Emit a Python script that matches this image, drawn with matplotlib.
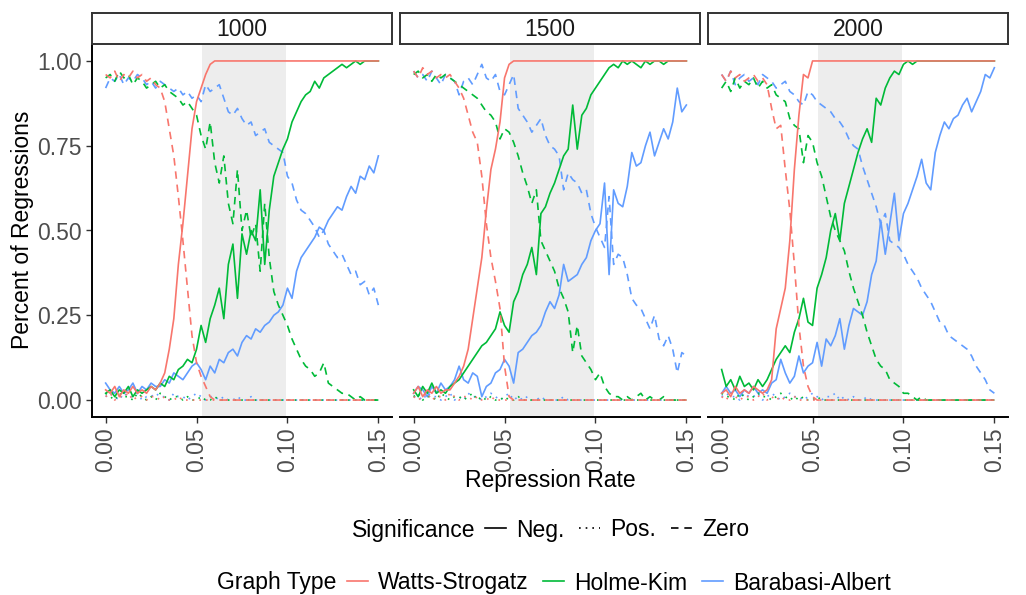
import numpy as np
import matplotlib.pyplot as plt
from matplotlib.lines import Line2D

plt.rcParams["font.family"] = ["Liberation Sans", "DejaVu Sans"]

# repression rates tested (61 steps from 0 to 0.15)
rate = np.linspace(0, 0.15, 61)

sizes = ["1000", "1500", "2000"]
graph_types = ["Watts-Strogatz", "Holme-Kim", "Barabasi-Albert"]
significance = ["Neg.", "Pos.", "Zero"]

# percent of regressions (x100) per network size / graph type / significance
ws_neg_1000 = [3, 2, 4, 1, 3, 2, 4, 2, 3, 2,
               4, 3, 5, 8, 15, 24, 40, 52, 66, 80,
               88, 92, 96, 99, 100, 100, 100, 100, 100, 100,
               100, 100, 100, 100, 100, 100, 100, 100, 100, 100,
               100, 100, 100, 100, 100, 100, 100, 100, 100, 100,
               100, 100, 100, 100, 100, 100, 100, 100, 100, 100,
               100]
ws_zero_1000 = [96, 95, 97, 94, 96, 95, 97, 95, 96, 94,
                95, 93, 92, 88, 80, 72, 60, 47, 33, 19,
                11, 7, 4, 1, 0, 0, 0, 0, 0, 0,
                0, 0, 0, 0, 0, 0, 0, 0, 0, 0,
                0, 0, 0, 0, 0, 0, 0, 0, 0, 0,
                0, 0, 0, 0, 0, 0, 0, 0, 0, 0,
                0]
ws_pos_1000 = [1, 2, 0, 1, 1, 2, 0, 1, 1, 0,
               1, 1, 0, 1, 0, 0, 1, 0, 0, 0,
               0, 0, 0, 0, 0, 0, 0, 0, 0, 0,
               0, 0, 0, 0, 0, 0, 0, 0, 0, 0,
               0, 0, 0, 0, 0, 0, 0, 0, 0, 0,
               0, 0, 0, 0, 0, 0, 0, 0, 0, 0,
               0]
hk_neg_1000 = [2, 3, 1, 3, 2, 4, 1, 3, 2, 3,
               4, 3, 5, 4, 7, 6, 9, 10, 12, 11,
               15, 22, 17, 24, 28, 33, 24, 40, 46, 30,
               49, 43, 50, 47, 62, 40, 56, 66, 70, 74,
               77, 82, 85, 88, 90, 91, 94, 92, 95, 96,
               97, 98, 99, 98, 99, 100, 99, 100, 100, 100,
               100]
hk_zero_1000 = [95, 96, 94, 97, 95, 96, 93, 95, 94, 92,
                93, 94, 92, 93, 91, 90, 89, 87, 88, 86,
                84, 78, 74, 82, 70, 64, 72, 58, 52, 68,
                50, 56, 48, 52, 38, 58, 42, 32, 28, 25,
                22, 18, 15, 12, 10, 9, 7, 8, 11, 5,
                4, 3, 2, 2, 1, 0, 1, 0, 0, 0,
                0]
hk_pos_1000 = [2, 1, 0, 2, 1, 1, 0, 2, 1, 0,
               1, 0, 2, 1, 0, 1, 1, 0, 1, 0,
               0, 1, 0, 0, 1, 0, 0, 0, 0, 0,
               0, 0, 0, 0, 0, 0, 0, 0, 0, 0,
               0, 0, 0, 0, 0, 0, 0, 0, 0, 0,
               0, 0, 0, 0, 0, 0, 0, 0, 0, 0,
               0]
ba_neg_1000 = [5, 3, 2, 4, 2, 3, 5, 2, 4, 3,
               5, 4, 4, 6, 5, 8, 7, 6, 8, 10,
               11, 9, 6, 10, 8, 12, 11, 14, 15, 13,
               17, 19, 18, 21, 20, 22, 23, 25, 26, 28,
               33, 30, 38, 42, 44, 46, 48, 51, 50, 53,
               55, 57, 56, 60, 63, 61, 66, 65, 69, 67,
               72]
ba_zero_1000 = [92, 95, 94, 96, 93, 95, 94, 96, 95, 93,
                94, 92, 94, 93, 92, 91, 92, 90, 91, 89,
                90, 88, 93, 91, 92, 93, 89, 85, 84, 86,
                83, 81, 82, 78, 79, 80, 76, 75, 74, 73,
                66, 64, 59, 56, 55, 53, 51, 48, 50, 46,
                44, 42, 43, 40, 37, 38, 34, 35, 31, 33,
                28]
ba_pos_1000 = [1, 2, 1, 0, 2, 1, 1, 2, 0, 1,
               1, 2, 1, 1, 0, 2, 1, 1, 0, 1,
               2, 1, 0, 1, 1, 0, 1, 0, 0, 1,
               0, 0, 1, 0, 0, 0, 0, 0, 0, 0,
               0, 0, 0, 0, 0, 0, 0, 0, 0, 0,
               0, 0, 0, 0, 0, 0, 0, 0, 0, 0,
               0]

ws_neg_1500 = [2, 4, 1, 3, 2, 4, 2, 3, 3, 5,
               7, 10, 15, 24, 33, 42, 56, 68, 74, 82,
               95, 99, 100, 100, 100, 100, 100, 100, 100, 100,
               100, 100, 100, 100, 100, 100, 100, 100, 100, 100,
               100, 100, 100, 100, 100, 100, 100, 100, 100, 100,
               100, 100, 100, 100, 100, 100, 100, 100, 100, 100,
               100]
ws_zero_1500 = [97, 95, 98, 96, 97, 95, 96, 95, 96, 94,
                92, 89, 84, 79, 76, 66, 52, 42, 35, 27,
                10, 1, 0, 0, 0, 0, 0, 0, 0, 0,
                0, 0, 0, 0, 0, 0, 0, 0, 0, 0,
                0, 0, 0, 0, 0, 0, 0, 0, 0, 0,
                0, 0, 0, 0, 0, 0, 0, 0, 0, 0,
                0]
ws_pos_1500 = [1, 0, 1, 2, 0, 1, 1, 0, 2, 1,
               0, 1, 1, 0, 1, 0, 0, 1, 0, 0,
               0, 0, 0, 0, 0, 0, 0, 0, 0, 0,
               0, 0, 0, 0, 0, 0, 0, 0, 0, 0,
               0, 0, 0, 0, 0, 0, 0, 0, 0, 0,
               0, 0, 0, 0, 0, 0, 0, 0, 0, 0,
               0]
hk_neg_1500 = [3, 1, 4, 2, 5, 2, 3, 2, 4, 5,
               6, 8, 10, 12, 14, 16, 17, 19, 21, 26,
               22, 20, 29, 32, 37, 40, 45, 37, 55, 57,
               61, 64, 68, 72, 74, 87, 74, 84, 86, 90,
               92, 94, 96, 98, 99, 98, 100, 99, 100, 99,
               98, 100, 99, 100, 100, 99, 100, 100, 100, 100,
               100]
hk_zero_1500 = [96, 97, 95, 96, 94, 96, 95, 96, 95, 94,
                93, 92, 91, 90, 89, 87, 85, 84, 82, 77,
                80, 79, 76, 72, 67, 63, 58, 62, 47, 44,
                41, 38, 33, 30, 26, 14, 22, 13, 11, 9,
                6, 8, 4, 2, 1, 1, 0, 1, 0, 1,
                2, 0, 1, 0, 0, 1, 0, 0, 0, 0,
                0]
hk_pos_1500 = [1, 2, 0, 1, 1, 0, 2, 1, 0, 1,
               1, 0, 1, 2, 0, 1, 0, 1, 0, 0,
               1, 0, 0, 1, 0, 0, 0, 0, 0, 0,
               0, 0, 0, 0, 0, 0, 0, 0, 0, 0,
               0, 0, 0, 0, 0, 0, 0, 0, 0, 0,
               0, 0, 0, 0, 0, 0, 0, 0, 0, 0,
               0]
ba_neg_1500 = [2, 4, 3, 1, 4, 2, 5, 3, 4, 6,
               10, 6, 5, 8, 7, 1, 4, 5, 8, 9,
               12, 10, 5, 14, 15, 17, 19, 20, 22, 26,
               29, 27, 31, 40, 35, 36, 37, 40, 42, 47,
               50, 52, 64, 37, 62, 58, 57, 63, 73, 69,
               70, 75, 79, 72, 76, 80, 77, 82, 92, 85,
               87]
ba_zero_1500 = [97, 95, 96, 94, 97, 95, 93, 96, 95, 94,
                90, 94, 95, 93, 96, 99, 95, 94, 96, 91,
                90, 93, 96, 86, 84, 82, 79, 81, 83, 78,
                75, 74, 72, 62, 67, 65, 64, 61, 62, 55,
                51, 48, 45, 60, 40, 43, 42, 37, 30, 28,
                27, 24, 21, 25, 18, 16, 19, 15, 8, 14,
                13]
ba_pos_1500 = [1, 1, 0, 2, 1, 1, 0, 1, 2, 0,
               1, 0, 2, 1, 1, 0, 1, 2, 1, 0,
               1, 2, 0, 1, 0, 1, 0, 0, 1, 0,
               0, 0, 0, 1, 0, 0, 0, 0, 0, 0,
               0, 0, 0, 0, 0, 0, 0, 0, 0, 0,
               0, 0, 0, 0, 0, 0, 0, 0, 0, 0,
               0]

ws_neg_2000 = [2, 3, 1, 4, 2, 3, 2, 4, 3, 2,
               3, 6, 21, 27, 33, 47, 68, 84, 96, 95,
               100, 100, 100, 100, 100, 100, 100, 100, 100, 100,
               100, 100, 100, 100, 100, 100, 100, 100, 100, 100,
               100, 100, 100, 100, 100, 100, 100, 100, 100, 100,
               100, 100, 100, 100, 100, 100, 100, 100, 100, 100,
               100]
ws_zero_2000 = [96, 94, 97, 95, 96, 94, 95, 96, 94, 95,
                93, 86, 80, 81, 68, 56, 40, 22, 10, 4,
                1, 0, 0, 0, 0, 0, 0, 0, 0, 0,
                0, 0, 0, 0, 0, 0, 0, 0, 0, 0,
                0, 0, 0, 0, 0, 0, 0, 0, 0, 0,
                0, 0, 0, 0, 0, 0, 0, 0, 0, 0,
                0]
ws_pos_2000 = [1, 0, 2, 1, 0, 1, 1, 0, 1, 2,
               0, 1, 0, 1, 0, 0, 1, 0, 0, 0,
               0, 0, 0, 0, 0, 0, 0, 0, 0, 0,
               0, 0, 0, 0, 0, 0, 0, 0, 0, 0,
               0, 0, 0, 0, 0, 0, 0, 0, 0, 0,
               0, 0, 0, 0, 0, 0, 0, 0, 0, 0,
               0]
hk_neg_2000 = [9, 4, 6, 3, 7, 4, 5, 3, 6, 4,
               6, 9, 12, 14, 16, 14, 20, 24, 30, 23,
               22, 33, 37, 42, 50, 55, 47, 58, 63, 68,
               73, 77, 80, 76, 89, 87, 92, 95, 97, 96,
               99, 100, 99, 100, 100, 100, 100, 100, 100, 100,
               100, 100, 100, 100, 100, 100, 100, 100, 100, 100,
               100]
hk_zero_2000 = [92, 94, 91, 95, 92, 94, 93, 95, 92, 94,
                92, 93, 90, 89, 88, 83, 81, 80, 70, 78,
                76, 70, 66, 60, 54, 50, 47, 44, 38, 33,
                29, 25, 20, 16, 12, 10, 9, 6, 5, 4,
                2, 2, 1, 0, 1, 0, 0, 0, 0, 0,
                0, 0, 0, 0, 0, 0, 0, 0, 0, 0,
                0]
hk_pos_2000 = [2, 1, 1, 0, 2, 1, 0, 1, 2, 1,
               1, 0, 1, 2, 1, 0, 1, 0, 1, 0,
               0, 1, 0, 0, 0, 0, 0, 0, 0, 0,
               0, 0, 0, 0, 0, 0, 0, 0, 0, 0,
               0, 0, 0, 0, 0, 0, 0, 0, 0, 0,
               0, 0, 0, 0, 0, 0, 0, 0, 0, 0,
               0]
ba_neg_2000 = [2, 4, 2, 3, 1, 3, 2, 4, 2, 3,
               2, 5, 6, 12, 8, 5, 7, 13, 8, 10,
               11, 17, 10, 18, 16, 19, 24, 15, 22, 27,
               26, 25, 29, 37, 41, 53, 43, 52, 61, 47,
               55, 58, 62, 66, 71, 64, 62, 73, 78, 82,
               80, 83, 84, 87, 89, 85, 88, 91, 96, 95,
               98]
ba_zero_2000 = [96, 94, 97, 93, 95, 96, 94, 95, 93, 96,
                95, 94, 92, 93, 94, 91, 90, 88, 87, 91,
                90, 88, 87, 86, 85, 83, 82, 80, 77, 75,
                74, 69, 65, 61, 57, 52, 55, 47, 46, 45,
                43, 40, 38, 36, 33, 31, 29, 26, 23, 22,
                19, 18, 17, 16, 15, 13, 10, 8, 6, 3,
                2]
ba_pos_2000 = [1, 2, 1, 1, 0, 2, 1, 1, 2, 0,
               1, 2, 1, 0, 1, 2, 1, 1, 0, 1,
               2, 1, 0, 1, 1, 2, 0, 1, 0, 1,
               0, 0, 1, 0, 0, 0, 0, 0, 0, 0,
               0, 0, 0, 0, 0, 0, 0, 0, 0, 0,
               0, 0, 0, 0, 0, 0, 0, 0, 0, 0,
               0]

# grey band of interest on the rate axis
band_lo, band_hi = 0.053, 0.099

data = {
    "1000": {"Watts-Strogatz": [ws_neg_1000, ws_pos_1000, ws_zero_1000],
             "Holme-Kim": [hk_neg_1000, hk_pos_1000, hk_zero_1000],
             "Barabasi-Albert": [ba_neg_1000, ba_pos_1000, ba_zero_1000]},
    "1500": {"Watts-Strogatz": [ws_neg_1500, ws_pos_1500, ws_zero_1500],
             "Holme-Kim": [hk_neg_1500, hk_pos_1500, hk_zero_1500],
             "Barabasi-Albert": [ba_neg_1500, ba_pos_1500, ba_zero_1500]},
    "2000": {"Watts-Strogatz": [ws_neg_2000, ws_pos_2000, ws_zero_2000],
             "Holme-Kim": [hk_neg_2000, hk_pos_2000, hk_zero_2000],
             "Barabasi-Albert": [ba_neg_2000, ba_pos_2000, ba_zero_2000]},
}

colors = {"Watts-Strogatz": "#F8766D", "Holme-Kim": "#00BA38",
          "Barabasi-Albert": "#619CFF"}
styles = ["-", (0, (1, 3)), (0, (4.5, 3.5))]
draw_order = ["Barabasi-Albert", "Holme-Kim", "Watts-Strogatz"]

W, H = 1026, 595
fs = 16.5
lw = 1.2
fig = plt.figure(figsize=(W / 100, H / 100), dpi=100)


def px_axes(x0, y0, x1, y1):
    return fig.add_axes([x0 / W, 1 - y1 / H, (x1 - x0) / W, (y1 - y0) / H])


lefts = [92, 400, 708]
pw = 300
top, bottom = 44, 417
strip_top = 12.7

for k, size in enumerate(sizes):
    x0 = lefts[k]
    ax = px_axes(x0, top, x0 + pw, bottom)
    ax.axvspan(band_lo, band_hi, color="#EDEDED", lw=0, zorder=0)
    for gt in draw_order:
        for s, vals in enumerate(data[size][gt]):
            ax.plot(rate, np.array(vals) / 100, color=colors[gt], lw=lw,
                    linestyle=styles[s], zorder=2)
    ax.set_xlim(-0.0075, 0.1575)
    ax.set_ylim(-0.05, 1.05)
    ax.set_xticks([0, 0.05, 0.10, 0.15])
    ax.set_xticklabels(["0.00", "0.05", "0.10", "0.15"], rotation=90,
                       fontsize=fs, color="#4D4D4D")
    for sp in ["top", "right"]:
        ax.spines[sp].set_visible(False)
    ax.spines["bottom"].set_linewidth(1.4)
    ax.spines["left"].set_linewidth(1.4)
    ax.tick_params(length=4.5, width=1.0, color="#333333", pad=3)
    if k == 0:
        ax.set_yticks([0, 0.25, 0.5, 0.75, 1.0])
        ax.set_yticklabels(["0.00", "0.25", "0.50", "0.75", "1.00"],
                           fontsize=fs, color="#4D4D4D")
    else:
        ax.spines["left"].set_visible(False)
        ax.set_yticks([])

    # facet strip
    st = px_axes(x0, strip_top, x0 + pw, top)
    st.set_xticks([])
    st.set_yticks([])
    for sp in st.spines.values():
        sp.set_linewidth(1.4)
        sp.set_color("#333333")
    st.text(0.5, 0.47, size, ha="center", va="center", fontsize=fs,
            color="#1A1A1A", transform=st.transAxes)

fig.text(23 / W, 1 - 230 / H, "Percent of Regressions", rotation=90,
         ha="center", va="center", fontsize=fs)
fig.text(550 / W, 1 - 481 / H, "Repression Rate", ha="center",
         va="center", fontsize=fs)

# legends
sig_handles = [Line2D([], [], color="black", lw=lw, linestyle=s)
               for s in styles]
fig.text(352 / W, 1 - 530 / H, "Significance", ha="left", va="center",
         fontsize=fs)
fig.legend(sig_handles, significance, loc="center left",
           bbox_to_anchor=(485 / W, 1 - 530 / H), ncol=3, frameon=False,
           fontsize=fs, handlelength=0.9, handletextpad=0.45,
           columnspacing=0.65, borderpad=0, borderaxespad=0)

gt_handles = [Line2D([], [], color=colors[g], lw=lw) for g in graph_types]
fig.text(217 / W, 1 - 583 / H, "Graph Type", ha="left", va="center",
         fontsize=fs)
fig.legend(gt_handles, graph_types, loc="center left",
           bbox_to_anchor=(347 / W, 1 - 583 / H), ncol=3, frameon=False,
           fontsize=fs, handlelength=0.9, handletextpad=0.45,
           columnspacing=0.65, borderpad=0, borderaxespad=0)

fig.savefig("out.png", dpi=100)
